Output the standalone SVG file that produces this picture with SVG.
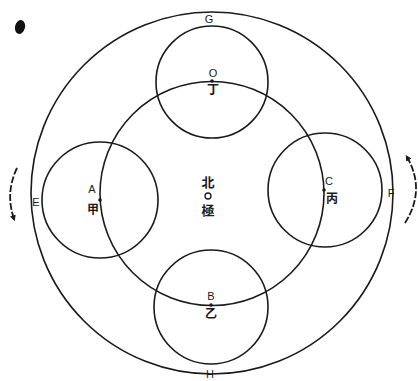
<svg xmlns="http://www.w3.org/2000/svg" width="418" height="381" viewBox="0 0 418 381">
<style>
.c{fill:none;stroke:#1a1a1a;stroke-width:1.6}
.l{font-family:"Liberation Sans","Noto Sans CJK SC",sans-serif;font-size:11px;fill:#1a1a1a;text-anchor:middle}
.z{font-family:"Noto Sans CJK SC","Noto Sans CJK TC",sans-serif;font-size:12px;fill:#1a1a1a;text-anchor:middle;font-weight:bold}
.a{fill:none;stroke:#1a1a1a;stroke-width:1.8;stroke-dasharray:7 2}
.d{fill:#1a1a1a}
</style>
<defs>
<marker id="ah" viewBox="0 0 10 10" refX="6" refY="5" markerWidth="6" markerHeight="6" orient="auto" markerUnits="userSpaceOnUse">
<path d="M0,0 L10,5 L0,10 z" fill="#1a1a1a"/>
</marker>
</defs>
<rect width="418" height="381" fill="#ffffff"/>
<ellipse cx="20" cy="27" rx="5" ry="7" transform="rotate(15 20 27)" fill="#111"/>
<g id="outer">
<circle class="c" cx="212" cy="193" r="181"/>
<text class="l" x="209" y="23">G</text>
<text class="l" x="36" y="206">E</text>
<text class="l" x="391" y="197">F</text>
<text class="l" x="210" y="378">H</text>
</g>
<g id="middle">
<circle class="c" cx="212" cy="193.5" r="112"/>
</g>
<g id="center">
<text class="z" x="208" y="187" style="font-size:13px">北</text>
<circle cx="208" cy="196" r="3" fill="none" stroke="#1a1a1a" stroke-width="1.3"/>
<text class="z" x="208" y="215" style="font-size:13px">極</text>
</g>
<g id="top">
<circle class="c" cx="212" cy="82" r="56"/>
<circle class="d" cx="212" cy="81" r="1.8"/>
<text class="l" x="213" y="77">O</text>
<text class="z" x="213" y="94">丁</text>
</g>
<g id="left">
<circle class="c" cx="100" cy="200" r="58"/>
<circle class="d" cx="100" cy="200" r="1.8"/>
<text class="l" x="92" y="193">A</text>
<text class="z" x="93" y="214">甲</text>
</g>
<g id="right">
<circle class="c" cx="325" cy="190" r="57"/>
<circle class="d" cx="324" cy="190" r="1.8"/>
<text class="l" x="329" y="185">C</text>
<text class="z" x="332" y="203">丙</text>
</g>
<g id="bottom">
<circle class="c" cx="211" cy="307" r="57"/>
<circle class="d" cx="211" cy="305" r="1.8"/>
<text class="l" x="211" y="300">B</text>
<text class="z" x="211" y="318">乙</text>
</g>
<g id="connectors">
<path class="a" d="M17,168 Q5,193 14,219" marker-end="url(#ah)"/>
<path class="a" d="M405,223 Q426,190 407,157" marker-end="url(#ah)"/>
</g>
</svg>
